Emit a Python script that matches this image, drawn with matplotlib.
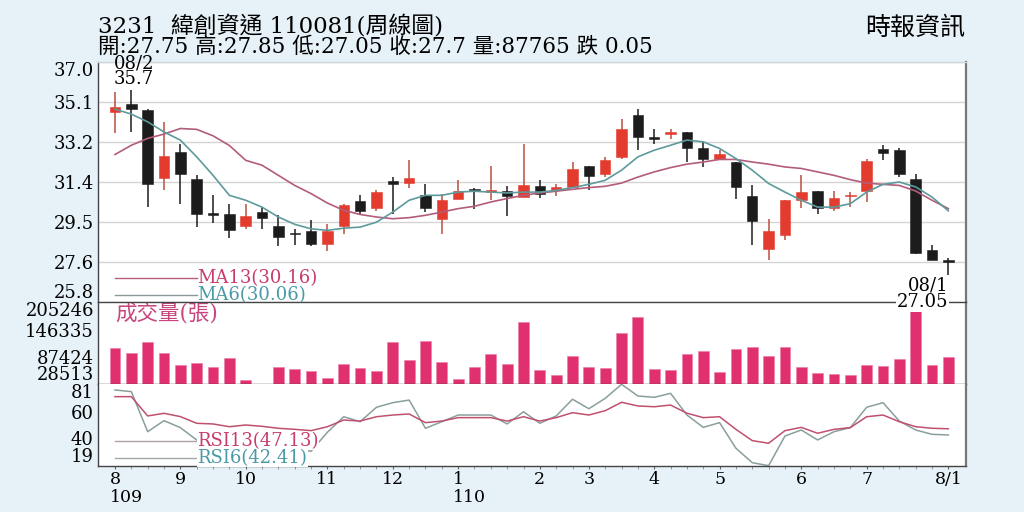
import numpy as np
import matplotlib
matplotlib.use('Agg')
import matplotlib.pyplot as plt
from matplotlib.transforms import blended_transform_factory

plt.rcParams['font.family'] = ['DejaVu Serif', 'Noto Sans CJK TC']

# ---------------- text ----------------
title_text = '3231  緯創資通 110081(周線圖)'
info_text = '開:27.75 高:27.85 低:27.05 收:27.7 量:87765 跌 0.05'
source_text = '時報資訊'
vol_title = '成交量(張)'
hi_date = '08/2'
lo_date = '08/1'

# ---------------- weekly OHLC ----------------
opens = [34.67, 35.01, 34.75, 31.59, 32.80, 31.56, 29.92, 29.93, 29.33, 30.00,
         29.35, 29.02, 29.11, 28.53, 29.33, 30.50, 30.19, 31.45, 31.35, 30.78,
         29.66, 30.63, 31.09, 30.95, 30.98, 30.70, 31.20, 31.01, 31.17, 32.13,
         31.76, 32.57, 34.51, 33.47, 33.65, 33.71, 33.00, 32.46, 32.33, 30.73,
         28.27, 28.91, 30.58, 30.97, 30.19, 30.76, 30.97, 32.93, 32.88, 31.56,
         28.25, 27.75]
highs = [35.60, 35.70, 34.80, 34.20, 33.19, 31.71, 30.78, 30.39, 30.36, 30.23,
         29.85, 29.22, 29.61, 29.46, 30.39, 30.78, 31.01, 31.63, 32.41, 31.29,
         30.86, 31.48, 31.12, 32.13, 31.20, 33.19, 31.51, 31.29, 32.33, 32.15,
         32.57, 34.31, 34.78, 33.89, 33.89, 33.73, 33.27, 32.91, 32.35, 31.28,
         29.66, 30.57, 31.71, 31.00, 30.97, 30.93, 32.49, 33.11, 32.96, 31.76,
         28.49, 27.85]
lows = [33.66, 33.73, 30.23, 31.01, 30.39, 29.30, 29.51, 28.81, 29.22, 29.22,
        28.40, 28.45, 28.40, 28.21, 28.99, 29.85, 30.05, 29.89, 31.12, 30.00,
        28.99, 30.63, 30.13, 30.58, 29.80, 30.70, 30.67, 30.73, 31.17, 31.01,
        31.63, 32.49, 32.88, 33.19, 33.39, 32.33, 32.10, 32.41, 30.63, 28.49,
        27.79, 28.71, 30.21, 29.89, 30.05, 30.23, 30.47, 32.41, 31.63, 28.03,
        27.75, 27.05]
closes = [34.90, 34.79, 31.33, 32.60, 31.79, 29.93, 29.88, 29.15, 29.80, 29.72,
          28.83, 28.98, 28.53, 29.11, 30.31, 30.05, 30.93, 31.33, 31.60, 30.21,
          30.55, 30.98, 31.01, 30.99, 30.75, 31.28, 30.86, 31.17, 32.00, 31.68,
          32.41, 33.86, 33.50, 33.43, 33.72, 32.96, 32.46, 32.69, 31.17, 29.58,
          29.10, 30.55, 30.93, 30.19, 30.65, 30.80, 32.37, 32.73, 31.79, 28.09,
          27.75, 27.70]
ma13 = [32.68, 33.11, 33.43, 33.63, 33.89, 33.85, 33.55, 33.10, 32.41, 32.18,
        31.71, 31.24, 30.86, 30.42, 30.08, 29.89, 29.77, 29.69, 29.74, 29.85,
        30.00, 30.16, 30.27, 30.47, 30.63, 30.78, 30.89, 30.97, 31.06, 31.14,
        31.20, 31.35, 31.63, 31.87, 32.07, 32.23, 32.33, 32.45, 32.45, 32.33,
        32.23, 32.10, 32.03, 31.87, 31.71, 31.51, 31.35, 31.29, 31.24, 30.98,
        30.55, 30.16]
ma6 = [34.79, 34.56, 34.20, 33.73, 33.35, 32.57, 31.71, 30.78, 30.55, 30.23,
       29.77, 29.43, 29.22, 29.15, 29.25, 29.30, 29.53, 30.00, 30.55, 30.78,
       30.78, 30.93, 30.97, 30.93, 30.89, 30.93, 30.93, 31.01, 31.14, 31.29,
       31.48, 31.95, 32.57, 32.88, 33.11, 33.35, 33.27, 32.96, 32.49, 31.95,
       31.33, 30.93, 30.55, 30.23, 30.23, 30.39, 30.93, 31.29, 31.40, 31.17,
       30.70, 30.06]

# ---------------- volume ----------------
volumes = [106104, 95327, 120329, 95327, 70111, 73774, 66446, 84551, 37781, 29200,
           65153, 60843, 57178, 41445, 71619, 64291, 57178, 120329, 80887, 122484,
           75930, 39290, 66446, 93819, 71619, 162142, 58687, 47911, 88861, 66446,
           64291, 138433, 174212, 62135, 59980, 93819, 99638, 55670, 103949, 108259,
           88861, 108259, 66446, 52868, 50066, 47911, 69464, 68602, 82396, 205246,
           69464, 87765]

# ---------------- RSI ----------------
rsi13 = [71.6, 71.6, 56.9, 58.9, 56.4, 51.3, 50.8, 48.7, 50.0, 49.0,
         47.5, 46.7, 45.7, 48.7, 53.8, 53.0, 56.3, 57.6, 58.4, 51.8,
         53.0, 55.6, 55.6, 55.6, 53.0, 56.3, 53.0, 55.6, 59.4, 57.6,
         60.9, 67.3, 64.5, 63.9, 65.2, 59.0, 55.6, 56.3, 46.7, 38.1,
         36.1, 45.7, 48.2, 43.7, 46.7, 48.0, 56.3, 57.6, 52.5, 48.7,
         47.5, 47.13]
rsi6 = [76.7, 75.4, 44.9, 53.3, 48.0, 38.6, 34.0, 30.0, 33.0, 35.0,
        30.0, 32.0, 30.0, 44.5, 56.3, 52.5, 63.5, 67.0, 69.0, 47.5,
        52.5, 57.6, 57.6, 57.6, 50.8, 60.1, 51.3, 56.9, 69.6, 62.4,
        70.3, 81.0, 72.1, 71.1, 74.1, 57.6, 48.2, 51.8, 32.3, 21.3,
        19.0, 41.6, 46.2, 38.6, 44.9, 48.0, 63.5, 67.0, 53.0, 46.2,
        42.9, 42.41]

# ---------------- axes labels ----------------
price_range = (25.8, 37.0)
price_tick_labels = ['37.0', '35.1', '33.2', '31.4', '29.5', '27.6', '25.8']
vol_ticks = [205246, 146335, 87424, 28513]
vol_tick_labels = ['205246', '146335', '87424', '28513']
rsi_ticks = [81, 60, 40, 19]
rsi_tick_labels = ['81', '60', '40', '19']
month_pos = [0, 4, 8, 13, 17, 21, 26, 29, 33, 37, 42, 46, 51]
month_labels = ['8', '9', '10', '11', '12', '1', '2', '3', '4', '5', '6', '7', '8/1']
year_pos = [0, 21]
year_labels = ['109', '110']

# ---------------- styles ----------------
BG = '#e6f2f8'
RED = '#e33b2e'
RED_WICK = '#b8503c'
BLACK = '#1c1c1c'
VOL = '#e1306f'
MA13_C = '#b35c7c'
MA6_C = '#5d9a9c'
PINK_TXT = '#c83c6e'
TEAL_TXT = '#4a9aa5'
FS = 13
XFS = 12.5

fig = plt.figure(figsize=(10.24, 5.12), dpi=100, facecolor=BG)
L, W = 98 / 1024, 868 / 1024
ax_p = fig.add_axes([L, 1 - 302.3 / 512, W, 240.6 / 512])
ax_v = fig.add_axes([L, 1 - 384.3 / 512, W, 82 / 512])
ax_r = fig.add_axes([L, 1 - 465.7 / 512, W, 81.4 / 512])
ax_p.set_zorder(5)

n = len(closes)
x = np.arange(n)
xlim = (-1.04, n + 0.08)
o, h, l, c = (np.array(a) for a in (opens, highs, lows, closes))
up = c > o

for ax in (ax_p, ax_v, ax_r):
    ax.set_xlim(*xlim)
    ax.set_facecolor('white')
    for s in ax.spines.values():
        s.set_color('#444444')
        s.set_linewidth(1.0)
    ax.spines['right'].set_color('#777777')
    ax.spines['right'].set_linewidth(1.6)
    ax.tick_params(axis='y', length=0, pad=3, labelsize=FS)
    ax.tick_params(axis='x', length=0, labelbottom=False)

# ---- price panel ----
ax_p.set_ylim(*price_range)
p_ticks = np.linspace(price_range[1], price_range[0], len(price_tick_labels))
ax_p.set_yticks(p_ticks, price_tick_labels)
ax_p.grid(axis='y', color='#d4d4d4', lw=1.0, zorder=0)
ax_p.spines['top'].set_color('#d0d8dc')
wick_cols = np.where(up, RED_WICK, BLACK)
body_cols = np.where(up, RED, BLACK)
ax_p.vlines(x, l, h, colors=wick_cols, lw=1.1, zorder=2)
body_h = np.abs(c - o)
min_h = 0.07
bot = np.where(body_h < min_h, (o + c) / 2 - min_h / 2, np.minimum(o, c))
ax_p.bar(x, np.maximum(body_h, min_h), width=0.64, bottom=bot, color=body_cols,
         edgecolor=body_cols, lw=0.4, zorder=3)
ax_p.plot(x, ma13, color=MA13_C, lw=1.2, zorder=4)
ax_p.plot(x, ma6, color=MA6_C, lw=1.2, zorder=4)

# MA legend
for yy, lab, col, tcol in ((0.101, f'MA13({ma13[-1]:.2f})', MA13_C, PINK_TXT),
                           (0.032, f'MA6({ma6[-1]:.2f})', '#8a9a9a', TEAL_TXT)):
    ax_p.plot([0.0196, 0.1145], [yy, yy], transform=ax_p.transAxes, color=col, lw=1.0)
    ax_p.text(0.1145, yy, lab, transform=ax_p.transAxes, color=tcol, fontsize=FS,
              va='center', ha='left')

# high / low annotations
i_hi = int(np.argmax(h))
ax_p.annotate(f'{hi_date}\n{h[i_hi]:.1f}', xy=(x[i_hi], h[i_hi]), xytext=(2, 1),
              textcoords='offset points', ha='center', va='bottom', fontsize=FS,
              linespacing=0.85, multialignment='center', zorder=10)
i_lo = int(np.argmin(l))
ax_p.annotate(f'{lo_date}\n{l[i_lo]:.2f}', xy=(x[i_lo], l[i_lo]), xytext=(0, -1),
              textcoords='offset points', ha='right', va='top', fontsize=FS,
              linespacing=0.9, multialignment='right', zorder=10, annotation_clip=False,
              bbox=dict(facecolor='white', edgecolor='none', pad=0.5))

# ---- volume panel ----
ax_v.set_ylim(min(vol_ticks), max(vol_ticks))
ax_v.bar(x, volumes, width=0.66, color=VOL, edgecolor='#ea7aa6', lw=0.4, zorder=2)
ax_v.set_yticks(vol_ticks, vol_tick_labels)
ax_v.spines['top'].set_visible(False)
ax_v.text(0.0196, 0.86, vol_title, transform=ax_v.transAxes, color='#c8457e',
          fontsize=15.5, va='center', ha='left')

# ---- RSI panel ----
ax_r.set_ylim(min(rsi_ticks), max(rsi_ticks))
ax_r.plot(x, rsi6, color='#8a9e9e', lw=1.1, zorder=2)
ax_r.plot(x, rsi13, color='#c0506e', lw=1.1, zorder=3)
ax_r.set_yticks(rsi_ticks, rsi_tick_labels)
ax_r.spines['top'].set_visible(False)
for yy, lab, col, tcol in ((0.303, f'RSI13({rsi13[-1]:.2f})', '#b0a0a8', PINK_TXT),
                           (0.095, f'RSI6({rsi6[-1]:.2f})', '#a0a8a8', TEAL_TXT)):
    ax_r.plot([0.0196, 0.1145], [yy, yy], transform=ax_r.transAxes, color=col, lw=1.0, zorder=4)
    ax_r.text(0.1145, yy, lab, transform=ax_r.transAxes, color=tcol, fontsize=FS,
              va='center', ha='left', zorder=5,
              bbox=dict(facecolor='white', edgecolor='none', pad=0.3))

ax_r.set_xticks(month_pos, month_labels)
ax_r.set_xticks(x, minor=True)
ax_r.tick_params(axis='x', which='major', length=2.5, pad=1, labelbottom=True,
                 labelsize=XFS, color='#666666')
ax_r.tick_params(axis='x', which='minor', length=2.5, color='#888888')
trans = blended_transform_factory(ax_r.transData, ax_r.transAxes)
for xp, lab in zip(year_pos, year_labels):
    ax_r.text(xp - 0.3, -0.29, lab, transform=trans, ha='left', va='top', fontsize=XFS)

# adjust edge tick labels so they stay inside their panel
for axis_obj in (ax_p, ax_v, ax_r):
    tl = axis_obj.get_yticklabels()
    tl[0].set_va('top')
    tl[-1].set_va('bottom')

# ---- header ----
fig.text(L, 1 - 26 / 512, title_text, fontsize=16.5, ha='left', va='center')
fig.text(L, 1 - 46.5 / 512, info_text, fontsize=15.5, ha='left', va='center')
fig.text(965 / 1024, 1 - 28 / 512, source_text, fontsize=18, ha='right', va='center')

fig.savefig('out.png', dpi=100, facecolor=BG)
